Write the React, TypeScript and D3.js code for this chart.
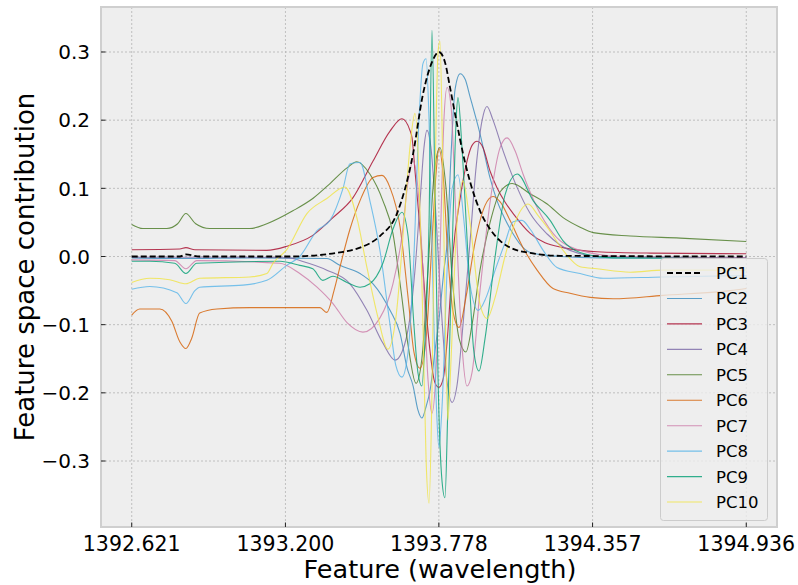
import React, { useEffect, useRef } from 'react';
import * as d3 from 'd3';

// [wavelength, contribution]
const pc1 = [
  [1392.621, 0.0], [1392.802, 0.0], [1392.825, 0.003], [1392.877, 0.0], [1393.217, 0.0],
  [1393.405, 0.006], [1393.481, 0.013], [1393.556, 0.03], [1393.620, 0.063], [1393.681, 0.151],
  [1393.718, 0.238], [1393.752, 0.285], [1393.778, 0.30], [1393.801, 0.285], [1393.820, 0.248],
  [1393.846, 0.195], [1393.869, 0.151], [1393.899, 0.105], [1393.933, 0.067], [1393.971, 0.04],
  [1394.009, 0.023], [1394.065, 0.01], [1394.110, 0.006], [1394.235, 0.001], [1394.936, 0.0],
];
const pc2 = [
  [1392.621, -0.002], [1392.825, -0.003], [1393.066, -0.002], [1393.356, -0.003], [1393.405, -0.013],
  [1393.481, -0.025], [1393.530, -0.04], [1393.594, -0.079], [1393.632, -0.113], [1393.658, -0.163],
  [1393.681, -0.19], [1393.699, -0.225], [1393.714, -0.237], [1393.730, -0.22], [1393.745, -0.196],
  [1393.763, -0.14], [1393.782, -0.08], [1393.797, -0.02], [1393.809, 0.02], [1393.824, 0.15],
  [1393.839, 0.245], [1393.858, 0.268], [1393.877, 0.26], [1393.895, 0.235], [1393.933, 0.18],
  [1393.971, 0.115], [1393.997, 0.082], [1394.027, 0.055], [1394.058, 0.033], [1394.084, 0.018],
  [1394.122, 0.006], [1394.235, 0.0], [1394.386, -0.002], [1394.936, -0.002],
];
const pc3 = [
  [1392.621, 0.010], [1392.802, 0.011], [1392.825, 0.013], [1392.859, 0.010], [1393.130, 0.009],
  [1393.205, 0.015], [1393.303, 0.031], [1393.379, 0.057], [1393.454, 0.086], [1393.530, 0.140],
  [1393.594, 0.184], [1393.639, 0.202], [1393.669, 0.185], [1393.677, 0.174], [1393.688, 0.126],
  [1393.707, 0.04], [1393.726, -0.06], [1393.745, -0.14], [1393.763, -0.185], [1393.778, -0.192],
  [1393.794, -0.18], [1393.812, -0.11], [1393.831, 0.004], [1393.858, 0.085], [1393.884, 0.14],
  [1393.903, 0.163], [1393.922, 0.169], [1393.944, 0.16], [1393.971, 0.125], [1393.997, 0.101],
  [1394.027, 0.08], [1394.058, 0.063], [1394.122, 0.034], [1394.178, 0.02], [1394.246, 0.013],
  [1394.374, 0.007], [1394.574, 0.005], [1394.936, 0.004],
];
const pc4 = [
  [1392.621, -0.001], [1393.066, -0.001], [1393.217, -0.002], [1393.254, -0.006], [1393.356, -0.02],
  [1393.443, -0.04], [1393.507, -0.079], [1393.567, -0.127], [1393.613, -0.152], [1393.639, -0.14],
  [1393.669, -0.09], [1393.688, -0.02], [1393.707, 0.08], [1393.722, 0.16], [1393.733, 0.185],
  [1393.748, 0.16], [1393.767, 0.06], [1393.786, -0.07], [1393.805, -0.17], [1393.828, -0.214],
  [1393.846, -0.19], [1393.869, -0.10], [1393.895, 0.02], [1393.918, 0.13], [1393.941, 0.2],
  [1393.959, 0.22], [1393.982, 0.2], [1394.020, 0.155], [1394.073, 0.101], [1394.122, 0.063],
  [1394.186, 0.033], [1394.272, 0.009], [1394.386, 0.0], [1394.936, -0.002],
];
const pc5 = [
  [1392.621, 0.047], [1392.663, 0.041], [1392.753, 0.041], [1392.794, 0.048], [1392.825, 0.063],
  [1392.862, 0.048], [1392.915, 0.041], [1393.066, 0.041], [1393.130, 0.048], [1393.228, 0.067],
  [1393.303, 0.085], [1393.368, 0.107], [1393.432, 0.13], [1393.469, 0.139], [1393.518, 0.121],
  [1393.567, 0.082], [1393.605, 0.034], [1393.632, -0.04], [1393.662, -0.13], [1393.692, -0.186],
  [1393.714, -0.15], [1393.737, -0.02], [1393.760, 0.12], [1393.782, 0.16], [1393.805, 0.10],
  [1393.828, -0.03], [1393.854, -0.12], [1393.880, -0.14], [1393.903, -0.10], [1393.933, -0.02],
  [1393.971, 0.05], [1394.009, 0.095], [1394.054, 0.107], [1394.122, 0.092], [1394.186, 0.077],
  [1394.246, 0.057], [1394.310, 0.043], [1394.359, 0.035], [1394.499, 0.03], [1394.687, 0.027],
  [1394.936, 0.022],
];
const pc6 = [
  [1392.621, -0.086], [1392.651, -0.077], [1392.727, -0.077], [1392.772, -0.095], [1392.802, -0.125],
  [1392.825, -0.135], [1392.847, -0.12], [1392.877, -0.083], [1392.942, -0.077], [1393.066, -0.075],
  [1393.217, -0.075], [1393.330, -0.075], [1393.356, -0.082], [1393.383, -0.05], [1393.405, -0.016],
  [1393.443, 0.04], [1393.481, 0.082], [1393.530, 0.116], [1393.564, 0.119], [1393.594, 0.101],
  [1393.632, 0.043], [1393.662, -0.06], [1393.684, -0.14], [1393.707, -0.164], [1393.730, -0.12],
  [1393.752, 0.02], [1393.767, 0.12], [1393.778, 0.158], [1393.794, 0.12], [1393.812, 0.0],
  [1393.831, -0.08], [1393.854, -0.104], [1393.880, -0.06], [1393.914, 0.02], [1393.952, 0.075],
  [1393.982, 0.088], [1394.009, 0.08], [1394.046, 0.053], [1394.095, 0.013], [1394.148, -0.02],
  [1394.208, -0.047], [1394.272, -0.054], [1394.348, -0.06], [1394.435, -0.062], [1394.623, -0.057],
  [1394.876, -0.05], [1394.936, -0.047],
];
const pc7 = [
  [1392.621, -0.005], [1392.783, -0.006], [1392.825, -0.018], [1392.866, -0.006], [1393.179, -0.01],
  [1393.254, -0.025], [1393.319, -0.045], [1393.379, -0.069], [1393.432, -0.097], [1393.492, -0.111],
  [1393.556, -0.09], [1393.605, -0.04], [1393.639, 0.03], [1393.662, 0.11], [1393.681, 0.14],
  [1393.699, 0.1], [1393.718, -0.02], [1393.737, -0.18], [1393.752, -0.23], [1393.767, -0.17],
  [1393.782, 0.0], [1393.797, 0.2], [1393.809, 0.248], [1393.824, 0.22], [1393.843, 0.05],
  [1393.865, -0.13], [1393.884, -0.19], [1393.903, -0.17], [1393.933, -0.05], [1393.971, 0.08],
  [1394.009, 0.16], [1394.035, 0.174], [1394.065, 0.155], [1394.095, 0.121], [1394.148, 0.072],
  [1394.208, 0.034], [1394.310, 0.009], [1394.461, 0.0], [1394.936, -0.002],
];
const pc8 = [
  [1392.621, -0.048], [1392.689, -0.044], [1392.791, -0.053], [1392.825, -0.069], [1392.859, -0.05],
  [1392.877, -0.045], [1393.040, -0.042], [1393.130, -0.035], [1393.205, -0.013], [1393.254, 0.0],
  [1393.319, 0.038], [1393.368, 0.053], [1393.417, 0.10], [1393.443, 0.136], [1393.481, 0.138],
  [1393.518, 0.082], [1393.556, 0.009], [1393.594, -0.10], [1393.616, -0.16], [1393.639, -0.177],
  [1393.662, -0.14], [1393.684, 0.0], [1393.703, 0.2], [1393.718, 0.283], [1393.730, 0.29],
  [1393.741, 0.2], [1393.756, -0.05], [1393.771, -0.24], [1393.778, -0.28], [1393.790, -0.22],
  [1393.809, -0.02], [1393.828, 0.1], [1393.850, 0.12], [1393.873, 0.05], [1393.895, -0.04],
  [1393.926, -0.079], [1393.956, -0.06], [1393.990, -0.02], [1394.027, 0.02], [1394.058, 0.051],
  [1394.091, 0.053], [1394.122, 0.04], [1394.171, 0.009], [1394.223, -0.016], [1394.310, -0.025],
  [1394.397, -0.032], [1394.623, -0.03], [1394.936, -0.028],
];
const pc9 = [
  [1392.621, -0.007], [1392.689, -0.007], [1392.783, -0.01], [1392.825, -0.025], [1392.866, -0.01],
  [1393.179, -0.007], [1393.254, -0.013], [1393.303, -0.018], [1393.341, -0.035], [1393.379, -0.029],
  [1393.432, -0.038], [1393.481, -0.045], [1393.518, -0.04], [1393.567, -0.01], [1393.605, 0.04],
  [1393.639, 0.065], [1393.662, 0.03], [1393.684, -0.1], [1393.699, -0.17], [1393.714, -0.19],
  [1393.726, -0.12], [1393.741, 0.05], [1393.752, 0.332], [1393.763, 0.1], [1393.775, -0.18],
  [1393.790, -0.33], [1393.801, -0.354], [1393.812, -0.22], [1393.831, 0.05], [1393.843, 0.2],
  [1393.850, 0.233], [1393.865, 0.16], [1393.888, 0.0], [1393.910, -0.14], [1393.929, -0.168],
  [1393.952, -0.12], [1393.990, 0.0], [1394.027, 0.09], [1394.073, 0.121], [1394.133, 0.082],
  [1394.197, 0.053], [1394.246, 0.023], [1394.310, 0.006], [1394.435, -0.002], [1394.936, -0.003],
];
const pc10 = [
  [1392.621, -0.038], [1392.689, -0.032], [1392.764, -0.034], [1392.825, -0.04], [1392.877, -0.032],
  [1393.066, -0.03], [1393.130, -0.025], [1393.153, -0.01], [1393.205, 0.01], [1393.281, 0.063],
  [1393.356, 0.085], [1393.424, 0.102], [1393.469, 0.057], [1393.507, -0.016], [1393.549, -0.09],
  [1393.586, -0.136], [1393.616, -0.09], [1393.647, 0.05], [1393.669, 0.16], [1393.688, 0.21],
  [1393.703, 0.12], [1393.718, -0.1], [1393.730, -0.3], [1393.741, -0.362], [1393.752, -0.2],
  [1393.763, 0.1], [1393.775, 0.3], [1393.782, 0.316], [1393.794, 0.1], [1393.805, -0.15],
  [1393.812, -0.24], [1393.824, -0.15], [1393.843, 0.03], [1393.869, 0.111], [1393.895, 0.05],
  [1393.933, -0.07], [1393.959, -0.091], [1393.990, -0.06], [1394.027, 0.0], [1394.065, 0.05],
  [1394.114, 0.077], [1394.152, 0.06], [1394.186, 0.043], [1394.246, 0.009], [1394.310, -0.015],
  [1394.374, -0.018], [1394.499, -0.023], [1394.623, -0.02], [1394.936, -0.02],
];

const seriesNames = ['PC1', 'PC2', 'PC3', 'PC4', 'PC5', 'PC6', 'PC7', 'PC8', 'PC9', 'PC10'];
const seriesData = [pc1, pc2, pc3, pc4, pc5, pc6, pc7, pc8, pc9, pc10];
const seriesColors = ['#000000', '#348ABD', '#A60628', '#7A68A6', '#467821', '#D55E00', '#CC79A7', '#56B4E9', '#009E73', '#F0E442'];
const xTicks = [1392.621, 1393.200, 1393.778, 1394.357, 1394.936];
const yTicks = [-0.3, -0.2, -0.1, 0.0, 0.1, 0.2, 0.3];

const W = 798;
const H = 585;
const FONT = 'DejaVu Sans, sans-serif';

const App = () => {
  const svgRef = useRef<SVGSVGElement>(null);

  useEffect(() => {
    if (!svgRef.current) return;
    const svg = d3.select(svgRef.current);
    svg.selectAll('*').remove();

    const left = 101, right = 777, top = 7, bottom = 527;
    const xPad = (xTicks[4] - xTicks[0]) * 0.05;
    const x = d3.scaleLinear().domain([xTicks[0] - xPad, xTicks[4] + xPad]).range([left, right]);
    const y = d3.scaleLinear().domain([-0.3968, 0.366]).range([bottom, top]);

    // axes background
    svg.append('rect')
      .attr('x', left).attr('y', top)
      .attr('width', right - left).attr('height', bottom - top)
      .attr('fill', '#eeeeee');

    // grid
    const grid = svg.append('g');
    grid.selectAll('.gx').data(xTicks).enter().append('line')
      .attr('x1', d => x(d)).attr('x2', d => x(d))
      .attr('y1', top).attr('y2', bottom)
      .attr('stroke', '#b2b2b2').attr('stroke-width', 0.8).attr('stroke-dasharray', '2,2');
    grid.selectAll('.gy').data(yTicks).enter().append('line')
      .attr('x1', left).attr('x2', right)
      .attr('y1', d => y(d)).attr('y2', d => y(d))
      .attr('stroke', '#b2b2b2').attr('stroke-width', 0.8).attr('stroke-dasharray', '2,2');

    // lines
    const line = d3.line<number[]>()
      .x(d => x(d[0]))
      .y(d => y(d[1]))
      .curve(d3.curveMonotoneX);

    const plot = svg.append('g');
    seriesData.forEach((data, i) => {
      if (i === 0) return;
      plot.append('path')
        .attr('d', line(data))
        .attr('fill', 'none')
        .attr('stroke', seriesColors[i])
        .attr('stroke-width', 1.1)
        .attr('stroke-opacity', 0.8);
    });
    // PC1 on top of the others
    plot.append('path')
      .attr('d', line(pc1))
      .attr('fill', 'none')
      .attr('stroke', '#000')
      .attr('stroke-width', 1.8)
      .attr('stroke-dasharray', '6,3');

    // frame
    svg.append('rect')
      .attr('x', left).attr('y', top)
      .attr('width', right - left).attr('height', bottom - top)
      .attr('fill', 'none').attr('stroke', '#cfcfcf').attr('stroke-width', 2);

    // ticks (inward)
    const ticks = svg.append('g').attr('stroke', '#222').attr('stroke-width', 1);
    xTicks.forEach(t => {
      ticks.append('line').attr('x1', x(t)).attr('x2', x(t)).attr('y1', bottom).attr('y2', bottom - 4.5);
    });
    yTicks.forEach(t => {
      ticks.append('line').attr('x1', left).attr('x2', left + 4.5).attr('y1', y(t)).attr('y2', y(t));
    });

    // tick labels
    svg.append('g').selectAll('text').data(xTicks).enter().append('text')
      .attr('x', d => x(d)).attr('y', 551)
      .attr('text-anchor', 'middle')
      .attr('font-family', FONT).attr('font-size', 20.5)
      .text(d => d.toFixed(3));
    svg.append('g').selectAll('text').data(yTicks).enter().append('text')
      .attr('x', 90).attr('y', d => y(d)).attr('dy', '0.36em')
      .attr('text-anchor', 'end')
      .attr('font-family', FONT).attr('font-size', 20)
      .text(d => (d < 0 ? '\u2212' : '') + Math.abs(d).toFixed(1));

    // axis labels
    svg.append('text')
      .attr('x', (left + right) / 2 + 1).attr('y', 578)
      .attr('text-anchor', 'middle')
      .attr('font-family', FONT).attr('font-size', 25.5)
      .text('Feature (wavelength)');
    svg.append('text')
      .attr('transform', `translate(34, ${(top + bottom) / 2}) rotate(-90)`)
      .attr('text-anchor', 'middle')
      .attr('font-family', FONT).attr('font-size', 26)
      .text('Feature space contribution');

    // legend
    const legend = svg.append('g');
    legend.append('rect')
      .attr('x', 660.5).attr('y', 258.5).attr('width', 107).attr('height', 262).attr('rx', 3)
      .attr('fill', '#eeeeee').attr('fill-opacity', 0.8)
      .attr('stroke', '#cccccc').attr('stroke-width', 1);
    const rows = legend.selectAll('.row').data(seriesNames).enter().append('g')
      .attr('transform', (d, i) => `translate(0, ${273 + i * 25.45})`);
    rows.append('line')
      .attr('x1', 667).attr('x2', 702).attr('y1', 0).attr('y2', 0)
      .attr('stroke', (d, i) => seriesColors[i])
      .attr('stroke-width', (d, i) => (i === 0 ? 1.8 : 1.1))
      .attr('stroke-opacity', (d, i) => (i === 0 ? 1 : 0.8))
      .attr('stroke-dasharray', (d, i) => (i === 0 ? '6,3' : null));
    rows.append('text')
      .attr('x', 716).attr('y', 0).attr('dy', '0.36em')
      .attr('font-family', FONT).attr('font-size', 16.5)
      .text(d => d);
  }, []);

  return (
    <svg ref={svgRef} width={W} height={H}
      style={{ position: 'absolute', left: 0, top: 0, background: '#ffffff' }} />
  );
};

export default App;
